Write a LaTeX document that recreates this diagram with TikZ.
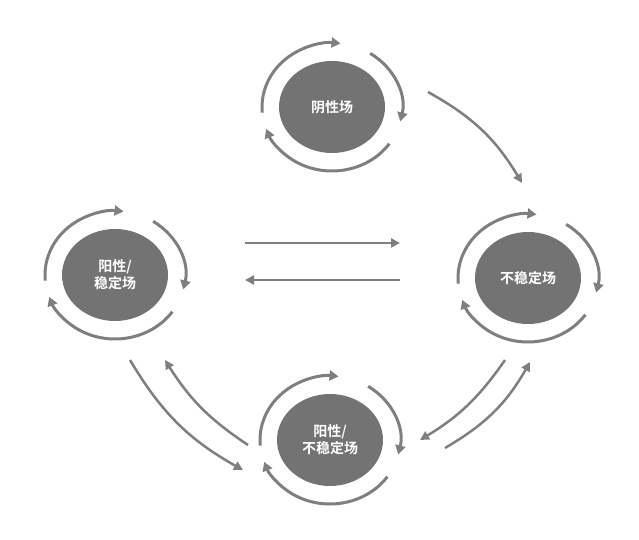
\documentclass[tikz,border=0pt]{standalone}
\usepackage{fontspec}
\newfontfamily\cjk{Noto Sans CJK SC Bold}
\usetikzlibrary{shapes.geometric,arrows.meta}
\definecolor{g}{HTML}{7F7F7F}
\definecolor{gf}{HTML}{737373}
\tikzset{
  field/.style={ellipse,fill=gf,minimum width=106pt,minimum height=92pt,inner sep=0pt,text=white,font=\cjk\fontsize{14}{17}\selectfont,align=center},
  ring/.style={draw=g,line width=3pt,-{Triangle[length=9pt,width=10pt]}},
  link/.style={draw=g,line width=2.5pt,-{Triangle[length=9pt,width=9pt]}}
}
\newcommand{\ringarcs}[1]{%
  \draw[ring] ($(#1)+(185:70pt and 64pt)$) arc[start angle=185,end angle=83,x radius=70pt,y radius=64pt];
  \draw[ring] ($(#1)+(57:70pt and 64pt)$) arc[start angle=57,end angle=-13,x radius=70pt,y radius=64pt];
  \draw[ring] ($(#1)+(-35:70pt and 64pt)$) arc[start angle=-35,end angle=-160,x radius=70pt,y radius=64pt];}
\usetikzlibrary{calc}
\begin{document}
\begin{tikzpicture}[x=1pt,y=1pt]
\useasboundingbox (0,0) rectangle (639,539);
\node[field] (top) at (332,432) {阴性场};
\node[field] (left) at (115,264) {阳性/\\稳定场};
\node[field] (right) at (528,261) {不稳定场};
\node[field] (bot) at (330,99) {阳性/\\不稳定场};
\ringarcs{top}\ringarcs{left}\ringarcs{right}\ringarcs{bot}
\coordinate (a1) at (428,447); \coordinate (a2) at (522,356);
\draw[link] (a1) to[bend left=15] (a2);
\coordinate (h1) at (245,296); \coordinate (h2) at (400,296);
\draw[link] (h1) -- (h2);
\coordinate (h3) at (400,259); \coordinate (h4) at (245,259);
\draw[link] (h3) -- (h4);
\coordinate (l1) at (130,179); \coordinate (l2) at (243,69);
\draw[link] (l1) to[bend right=15] (l2);
\coordinate (l3) at (248,94); \coordinate (l4) at (165,179);
\draw[link] (l3) to[bend left=12] (l4);
\coordinate (r1) at (505,179); \coordinate (r2) at (420,99);
\draw[link] (r1) to[bend left=12] (r2);
\coordinate (r3) at (445,91); \coordinate (r4) at (530,177);
\draw[link] (r3) to[bend right=15] (r4);
\end{tikzpicture}
\end{document}
